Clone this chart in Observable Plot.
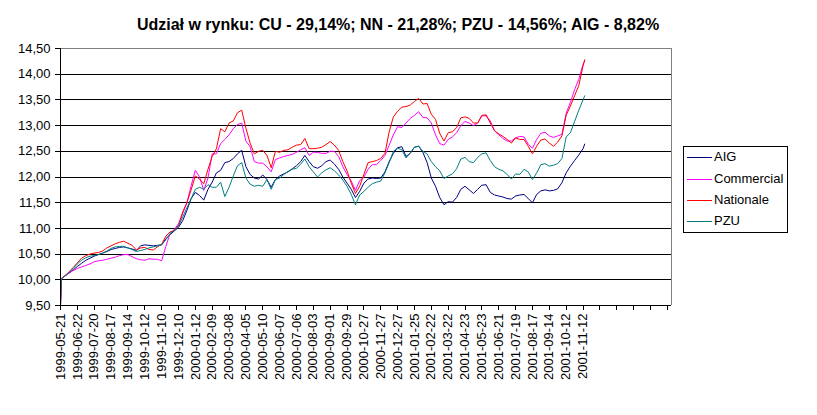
<!DOCTYPE html>
<html><head><meta charset="utf-8">
<script src="https://cdn.jsdelivr.net/npm/d3@7"></script>
<script src="https://cdn.jsdelivr.net/npm/@observablehq/plot@0.6"></script>
<style>
body{margin:0;background:#fff;font-family:"Liberation Sans",Arial,sans-serif;}
#wrap{position:relative;width:817px;height:415px;overflow:hidden;background:#fff}
#title{height:40px;position:relative}
#title span{position:absolute;left:0;width:796px;top:17px;text-align:center;font-weight:bold;font-size:16px;line-height:16px;white-space:nowrap;color:#000}
#legend{position:absolute;left:683px;top:146px;width:103px;height:85px;border:1px solid #000;background:#fff;font-size:13px;color:#000}
#legend .sw{position:absolute;left:3px;width:25px;height:1px}
#legend .lb{position:absolute;left:30px;line-height:14px;white-space:nowrap}
</style>
</head><body>
<div id="wrap">
  <div id="title"><span>Udział w rynku: CU - 29,14%; NN - 21,28%; PZU - 14,56%; AIG - 8,82%</span></div>
  <div id="chart"></div>
  <div id="legend"></div>
</div>
<script>
// category (trading-day) index of each sampled point
const dayIndex = [0, 1, ...d3.range(5, 621, 5), 622];

// tick labels, one per 20 trading days
const dateLabels = ["1999-05-21","1999-06-22","1999-07-20","1999-08-17","1999-09-14","1999-10-12","1999-11-10","1999-12-10",
  "2000-01-12","2000-02-09","2000-03-08","2000-04-05","2000-05-10","2000-06-07","2000-07-06","2000-08-03","2000-09-01",
  "2000-09-29","2000-10-27","2000-11-27","2000-12-27","2001-01-25","2001-02-22","2001-03-22","2001-04-23","2001-05-23",
  "2001-06-21","2001-07-19","2001-08-17","2001-09-14","2001-10-12","2001-11-12"];
const tickStep = 20;
const tickCount = 36;

const seriesNames = ["AIG", "Commercial", "Nationale", "PZU"];
const seriesColors = ["#000080", "#ff00ff", "#ff0000", "#008080"];

const aig = [9.5, 10.02,
 10.07,10.13,10.19,10.26,10.32,10.38,10.42,10.46,10.49,10.52,
 10.55,10.59,10.61,10.63,10.64,10.62,10.60,10.57,10.66,10.68,
 10.67,10.66,10.67,10.68,10.80,10.88,10.95,11.02,11.15,11.35,
 11.58,11.70,11.64,11.55,11.76,11.90,12.08,12.13,12.28,12.30,
 12.36,12.45,12.52,12.20,12.05,11.98,11.96,12.04,11.95,11.80,
 11.95,12.02,12.06,12.10,12.16,12.22,12.30,12.42,12.30,12.20,
 12.17,12.22,12.30,12.33,12.25,12.15,12.00,11.88,11.76,11.60,
 11.72,11.88,11.96,11.98,11.97,11.98,12.10,12.30,12.46,12.57,
 12.59,12.40,12.46,12.58,12.60,12.48,12.28,11.98,11.82,11.60,
 11.46,11.52,11.51,11.60,11.76,11.82,11.75,11.68,11.76,11.84,
 11.85,11.70,11.65,11.63,11.61,11.58,11.57,11.63,11.65,11.66,
 11.58,11.50,11.66,11.73,11.75,11.73,11.74,11.77,11.89,12.08,
 12.21,12.32,12.43,12.55, 12.64];

const commercial = [9.5, 10.02,
 10.07,10.13,10.18,10.22,10.25,10.28,10.31,10.35,10.37,10.38,
 10.40,10.42,10.44,10.47,10.49,10.49,10.45,10.41,10.39,10.38,
 10.41,10.40,10.40,10.37,10.65,10.90,10.98,11.09,11.29,11.50,
 11.83,12.13,12.00,11.74,11.98,12.45,12.45,12.65,12.73,12.82,
 12.94,13.02,13.05,12.70,12.59,12.30,12.27,12.27,12.20,12.10,
 12.34,12.37,12.40,12.42,12.44,12.48,12.53,12.57,12.42,12.48,
 12.48,12.46,12.46,12.50,12.50,12.40,12.20,12.05,11.92,11.74,
 11.93,12.00,12.15,12.24,12.24,12.32,12.42,12.62,12.82,12.98,
 12.96,13.05,13.14,13.20,13.27,13.16,13.15,13.05,12.82,12.65,
 12.62,12.73,12.78,12.86,13.00,13.08,13.05,13.00,13.05,13.19,
 13.19,13.09,12.90,12.82,12.75,12.70,12.70,12.76,12.79,12.78,
 12.64,12.56,12.73,12.85,12.87,12.80,12.77,12.80,12.83,13.24,
 13.45,13.70,13.90,14.19, 14.26];

const nationale = [9.5, 10.02,
 10.08,10.15,10.24,10.33,10.42,10.47,10.50,10.52,10.53,10.56,
 10.62,10.66,10.70,10.73,10.75,10.71,10.67,10.58,10.62,10.63,
 10.59,10.58,10.64,10.69,10.85,10.93,10.96,11.06,11.32,11.50,
 11.75,12.02,11.96,11.87,12.15,12.40,12.55,12.94,12.88,13.05,
 13.09,13.25,13.30,12.95,12.66,12.45,12.50,12.52,12.42,12.18,
 12.50,12.48,12.52,12.53,12.58,12.62,12.63,12.75,12.55,12.55,
 12.56,12.58,12.63,12.69,12.62,12.52,12.30,12.12,11.88,11.68,
 11.82,12.05,12.28,12.30,12.32,12.36,12.46,12.88,13.17,13.28,
 13.36,13.37,13.40,13.47,13.53,13.42,13.43,13.22,13.12,12.85,
 12.70,12.86,12.88,12.96,13.15,13.17,13.14,13.05,13.05,13.20,
 13.21,13.05,12.90,12.84,12.79,12.73,12.66,12.76,12.73,12.73,
 12.60,12.45,12.60,12.72,12.74,12.66,12.60,12.68,12.80,13.20,
 13.38,13.58,13.78,14.16, 14.28];

const pzu = [9.5, 10.02,
 10.07,10.14,10.22,10.31,10.38,10.43,10.46,10.47,10.49,10.52,
 10.56,10.61,10.64,10.65,10.65,10.62,10.59,10.55,10.57,10.59,
 10.62,10.64,10.66,10.68,10.78,10.90,10.96,11.05,11.22,11.40,
 11.58,11.76,11.80,11.76,11.85,11.80,11.80,11.90,11.62,11.80,
 12.02,12.22,12.28,11.98,11.86,11.82,11.84,11.82,11.95,11.76,
 11.95,11.98,12.05,12.11,12.15,12.17,12.25,12.35,12.20,12.10,
 12.00,12.08,12.14,12.18,12.12,12.04,11.94,11.82,11.66,11.46,
 11.65,11.72,11.80,11.87,11.90,11.92,12.08,12.28,12.50,12.56,
 12.53,12.37,12.47,12.58,12.60,12.50,12.45,12.30,12.20,12.12,
 11.97,12.02,12.06,12.16,12.35,12.38,12.30,12.28,12.38,12.45,
 12.47,12.32,12.20,12.15,12.12,12.05,11.96,12.06,12.05,12.15,
 12.10,11.95,12.08,12.24,12.26,12.21,12.23,12.26,12.36,12.78,
 12.86,13.08,13.30,13.50, 13.58];

const yTicks = [9.5,10,10.5,11,11.5,12,12.5,13,13.5,14,14.5];

const seriesValues = [aig, commercial, nationale, pzu];
const xTicks = d3.range(0, tickStep * tickCount + 1, tickStep);
const xMax = 725;
const fmtY = d => d3.format(".2f")(d).replace(".", ",");
const crisp = {shapeRendering: "crispEdges"};

const lineMarks = seriesValues.map((vals, k) =>
  Plot.lineY(dayIndex.map((d, j) => ({i: d, v: vals[j]})),
    {x: "i", y: "v", stroke: seriesColors[k], strokeWidth: 1, strokeLinejoin: "miter"})
);

const chart = Plot.plot({
  width: 817, height: 375,
  marginTop: 8, marginBottom: 110, marginLeft: 60, marginRight: 146,
  x: {domain: [0, xMax]},
  y: {domain: [yTicks[0], yTicks[yTicks.length - 1]]},
  style: {fontFamily: "'Liberation Sans', Arial, sans-serif", fontSize: "13px", color: "#000", background: "#fff", overflow: "visible"},
  marks: [
    Plot.ruleY(yTicks.slice(1, -1), {stroke: "#000", strokeWidth: 1, ...crisp}),
    Plot.ruleY([yTicks[yTicks.length - 1]], {stroke: "#808080", strokeWidth: 1, ...crisp}),
    Plot.ruleX([xMax], {stroke: "#808080", strokeWidth: 1, ...crisp}),
    Plot.axisY({ticks: yTicks, tickFormat: fmtY, tickSize: 5, tickPadding: 5, label: null, strokeOpacity: 1, ...crisp}),
    Plot.axisX({ticks: xTicks, tickFormat: d => dateLabels[d / tickStep] ?? "", tickRotate: -90, tickSize: 5, tickPadding: 3, label: null, strokeOpacity: 1, ...crisp}),
    ...lineMarks,
    Plot.ruleX([0], {stroke: "#000", strokeWidth: 1, ...crisp}),
    Plot.ruleY([yTicks[0]], {stroke: "#000", strokeWidth: 1, ...crisp})
  ]
});
document.getElementById("chart").appendChild(chart);

// legend
const legend = document.getElementById("legend");
const legendY = [10, 32, 53, 74];
seriesNames.forEach((name, k) => {
  const sw = document.createElement("div");
  sw.className = "sw";
  sw.style.top = legendY[k] + "px";
  sw.style.background = seriesColors[k];
  legend.appendChild(sw);
  const lb = document.createElement("div");
  lb.className = "lb";
  lb.style.top = (legendY[k] - 7) + "px";
  lb.textContent = name;
  legend.appendChild(lb);
});
</script>
</body></html>
